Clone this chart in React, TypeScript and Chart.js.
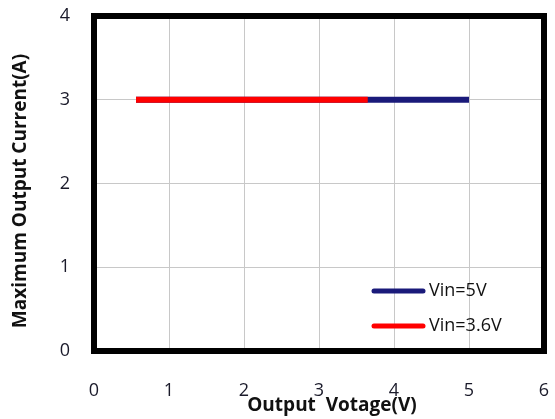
import React, { useEffect, useRef } from "react";
import { Chart, registerables } from "chart.js";

Chart.register(...registerables);

const xTicks = [0, 1, 2, 3, 4, 5, 6];
const yTicks = [0, 1, 2, 3, 4];
const seriesNames = ["Vin=5V", "Vin=3.6V"];
const seriesColors = ["#1a1a7a", "#ff0000"];
const vin5X = [0.56, 5.0];
const vin5Y = [3, 3];
const vin36X = [0.56, 3.65];
const vin36Y = [3, 3];
const xTitle = "Output  Votage(V)";
const yTitle = "Maximum Output Current(A)";

const FONT = "'Open Sans', Lato, sans-serif";

const decorPlugin = {
  id: "decor",
  afterDraw(chart: any) {
    const { ctx, chartArea } = chart;
    const { left, right, top, bottom } = chartArea;
    ctx.save();
    ctx.strokeStyle = "#000";
    ctx.lineWidth = 6;
    ctx.strokeRect(left, top, right - left, bottom - top);
    const items = [
      { name: seriesNames[0], color: seriesColors[0], y: 291 },
      { name: seriesNames[1], color: seriesColors[1], y: 326 },
    ];
    ctx.font = `18px ${FONT}`;
    ctx.textBaseline = "middle";
    ctx.textAlign = "left";
    for (const it of items) {
      ctx.strokeStyle = it.color;
      ctx.lineWidth = 5;
      ctx.lineCap = "round";
      ctx.beginPath();
      ctx.moveTo(374, it.y);
      ctx.lineTo(423, it.y);
      ctx.stroke();
      ctx.fillStyle = "#111";
      ctx.fillText(it.name, 429, it.y);
    }
    ctx.fillStyle = "#111";
    ctx.font = `bold 19px ${FONT}`;
    ctx.textAlign = "center";
    ctx.fillText(xTitle, 332, 406);
    ctx.translate(21, 191);
    ctx.rotate(-Math.PI / 2);
    ctx.fillText(yTitle, 0, 0);
    ctx.restore();
  },
};

const zeroPad = (s: any) => {
  s.paddingTop = 0;
  s.paddingBottom = 0;
  s.paddingLeft = 0;
  s.paddingRight = 0;
};

export default function App() {
  const ref = useRef<HTMLCanvasElement>(null);
  useEffect(() => {
    const chart = new Chart(ref.current!, {
      type: "scatter",
      data: {
        datasets: [
          {
            label: seriesNames[0],
            data: vin5X.map((x, i) => ({ x, y: vin5Y[i] })),
            showLine: true,
            borderColor: seriesColors[0],
            borderWidth: 6,
            pointRadius: 0,
            borderCapStyle: "butt",
            order: 1,
          } as any,
          {
            label: seriesNames[1],
            data: vin36X.map((x, i) => ({ x, y: vin36Y[i] })),
            showLine: true,
            borderColor: seriesColors[1],
            borderWidth: 6,
            pointRadius: 0,
            borderCapStyle: "butt",
            order: 0,
          } as any,
        ],
      },
      options: {
        animation: false,
        responsive: false,
        layout: { padding: { top: 16, right: 11, bottom: 0, left: 0 } },
        plugins: { legend: { display: false }, tooltip: { enabled: false } },
        scales: {
          x: {
            type: "linear",
            min: 0,
            max: 6,
            afterBuildTicks: (s: any) => {
              s.ticks = xTicks.map((v) => ({ value: v }));
            },
            afterFit: (s: any) => {
              s.height = 68;
              zeroPad(s);
            },
            grid: { color: "#c8c8c8", drawTicks: false, lineWidth: 1 },
            border: { display: false },
            ticks: {
              color: "#1a1a2a",
              font: { family: FONT, size: 18 },
              padding: 29,
            },
          },
          y: {
            type: "linear",
            min: 0,
            max: 4,
            afterBuildTicks: (s: any) => {
              s.ticks = yTicks.map((v) => ({ value: v }));
            },
            afterFit: (s: any) => {
              s.width = 94;
              zeroPad(s);
            },
            grid: { color: "#c8c8c8", drawTicks: false, lineWidth: 1 },
            border: { display: false },
            ticks: {
              color: "#1a1a2a",
              font: { family: FONT, size: 18 },
              padding: 24,
            },
          },
        },
      },
      plugins: [decorPlugin],
    } as any);
    return () => chart.destroy();
  }, []);
  return (
    <div style={{ position: "fixed", left: 0, top: 0, width: 555, height: 419, background: "#fff" }}>
      <canvas ref={ref} width={555} height={419} style={{ width: 555, height: 419 }} />
    </div>
  );
}
